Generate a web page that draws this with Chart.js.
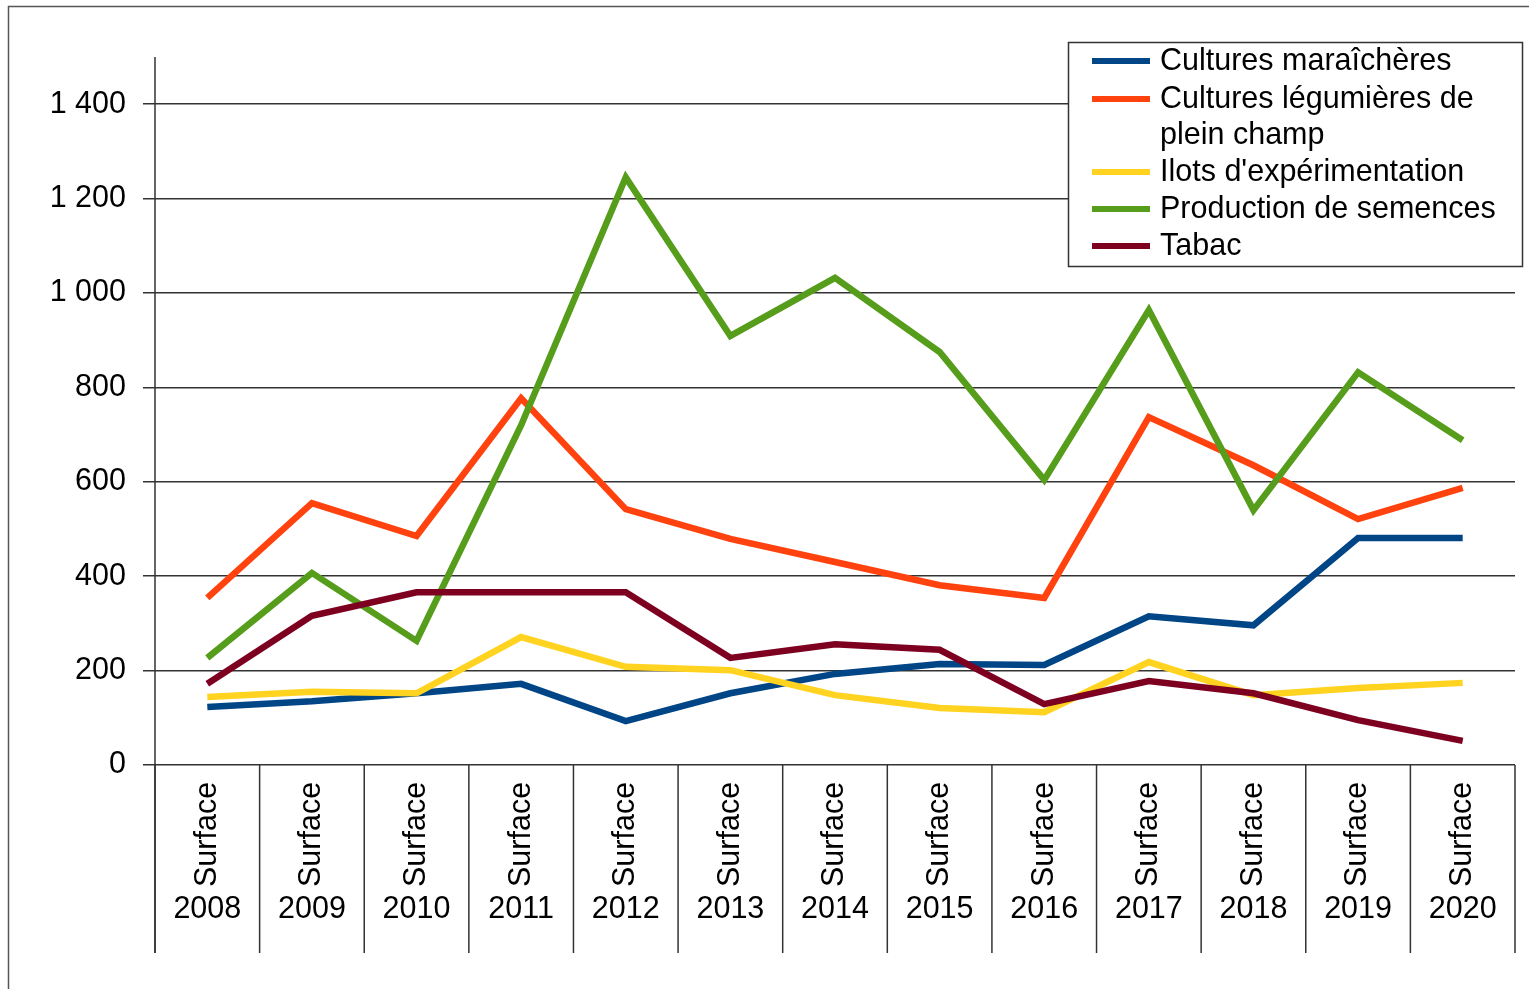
<!DOCTYPE html>
<html>
<head>
<meta charset="utf-8">
<script src="https://cdn.jsdelivr.net/npm/chart.js@4/dist/chart.umd.min.js"></script>
<style>
html,body{margin:0;padding:0;background:#fff;}
#wrap{position:absolute;left:0;top:0;width:1529px;height:989px;}
</style>
</head>
<body>
<div id="wrap"><canvas id="c" width="1529" height="989"></canvas></div>
<script>
const years = ['2008','2009','2010','2011','2012','2013','2014','2015','2016','2017','2018','2019','2020'];
const categoryLabel = 'Surface';
const yTicks = [0,200,400,600,800,1000,1200,1400];
const seriesNames = ['Cultures maraîchères', ['Cultures légumières de','plein champ'], "Ilots d'expérimentation", 'Production de semences', 'Tabac'];
const maraicheres = [123,135,152,172,93,152,193,214,212,315,296,481,481];
const legumieres  = [354,555,485,777,542,479,430,381,354,737,635,521,587];
const ilots       = [144,155,152,271,208,201,148,121,112,218,148,163,174];
const semences    = [227,407,263,720,1245,909,1032,875,604,964,540,832,688];
const tabac       = [172,316,366,366,366,227,256,244,129,178,152,95,51];
const colors = ['#004586','#ff420e','#ffd320','#579d1c','#7e0021'];

const FONT = '"Liberation Sans", Arial, sans-serif';
const FS = 30.5;
const fmt = v => { const s = String(v); return s.length > 3 ? s.slice(0, s.length-3) + '\u00a0' + s.slice(-3) : s; };

const extras = {
  id: 'extras',
  beforeDraw(chart) {
    const ctx = chart.ctx;
    ctx.save();
    ctx.fillStyle = '#fff';
    ctx.fillRect(0,0,chart.width,chart.height);
    ctx.strokeStyle = '#555';
    ctx.lineWidth = 1.5;
    ctx.strokeRect(8.5, 6.5, 1600, 1100);
    ctx.restore();
  },
  afterDraw(chart) {
    const ctx = chart.ctx;
    const xs = chart.scales.x, ys = chart.scales.y;
    const area = chart.chartArea;
    const y0 = ys.getPixelForValue(0);
    const bottom = 953;
    ctx.save();
    ctx.strokeStyle = '#333';
    ctx.lineWidth = 1.5;
    ctx.beginPath();
    ctx.moveTo(area.left, ys.getPixelForValue(1500));
    ctx.lineTo(area.left, bottom);
    ctx.stroke();
    const n = years.length;
    for (let i = 0; i <= n; i++) {
      let x;
      if (i === 0) x = area.left;
      else if (i === n) x = area.right;
      else x = (xs.getPixelForValue(i-1) + xs.getPixelForValue(i)) / 2;
      ctx.beginPath();
      ctx.moveTo(x, y0);
      ctx.lineTo(x, bottom);
      ctx.stroke();
    }
    ctx.fillStyle = '#000';
    ctx.font = FS + 'px ' + FONT;
    for (let i = 0; i < n; i++) {
      const cx = xs.getPixelForValue(i);
      ctx.save();
      ctx.translate(cx, 887);
      ctx.rotate(-Math.PI/2);
      ctx.textAlign = 'left';
      ctx.textBaseline = 'middle';
      ctx.fillText(categoryLabel, 0, 0);
      ctx.restore();
      ctx.textAlign = 'center';
      ctx.textBaseline = 'alphabetic';
      ctx.fillText(years[i], cx, 918);
    }
    const lx = 1068, ly = 42, lw = 454, lh = 224;
    ctx.fillStyle = '#fff';
    ctx.fillRect(lx, ly, lw, lh);
    ctx.strokeStyle = '#333';
    ctx.lineWidth = 1.5;
    ctx.strokeRect(lx + 0.5, ly + 0.5, lw, lh);
    const rows = [61, 99, 172, 209, 246];
    ctx.textAlign = 'left';
    ctx.textBaseline = 'middle';
    for (let i = 0; i < 5; i++) {
      ctx.strokeStyle = colors[i];
      ctx.lineWidth = 6;
      ctx.beginPath();
      ctx.moveTo(1092, rows[i]);
      ctx.lineTo(1150, rows[i]);
      ctx.stroke();
      ctx.fillStyle = '#000';
      const nm = seriesNames[i];
      if (Array.isArray(nm)) {
        nm.forEach((t, k) => ctx.fillText(t, 1160, rows[i] + k*36 + 1));
      } else {
        ctx.fillText(nm, 1160, rows[i] + 1);
      }
    }
    ctx.restore();
  }
};

const mk = (i, data) => ({
  label: Array.isArray(seriesNames[i]) ? seriesNames[i].join(' ') : seriesNames[i],
  data: data,
  borderColor: colors[i],
  backgroundColor: colors[i],
  borderWidth: 6.5,
  pointRadius: 0,
  tension: 0,
  fill: false,
  borderJoinStyle: 'miter',
  order: 5 - i
});

new Chart(document.getElementById('c'), {
  type: 'line',
  data: {
    labels: years,
    datasets: [mk(0, maraicheres), mk(1, legumieres), mk(2, ilots), mk(3, semences), mk(4, tabac)]
  },
  options: {
    responsive: false,
    animation: false,
    events: [],
    layout: { padding: { left: 0, top: 57, right: 14, bottom: 0 } },
    plugins: { legend: { display: false }, tooltip: { enabled: false } },
    scales: {
      x: {
        offset: true,
        grid: { display: false, drawTicks: false },
        border: { display: false },
        ticks: { display: false },
        afterFit(s) { s.height = 224; }
      },
      y: {
        min: 0,
        max: 1500,
        afterFit(s) { s.width = 155; },
        afterBuildTicks(s) { s.ticks = yTicks.map(v => ({ value: v })); },
        border: { display: false },
        grid: { color: '#333', lineWidth: 1.5, tickLength: 12, drawTicks: true },
        ticks: {
          color: '#000',
          font: { family: FONT, size: FS },
          padding: 17,
          callback: v => fmt(v)
        }
      }
    }
  },
  plugins: [extras]
});
</script>
</body>
</html>
